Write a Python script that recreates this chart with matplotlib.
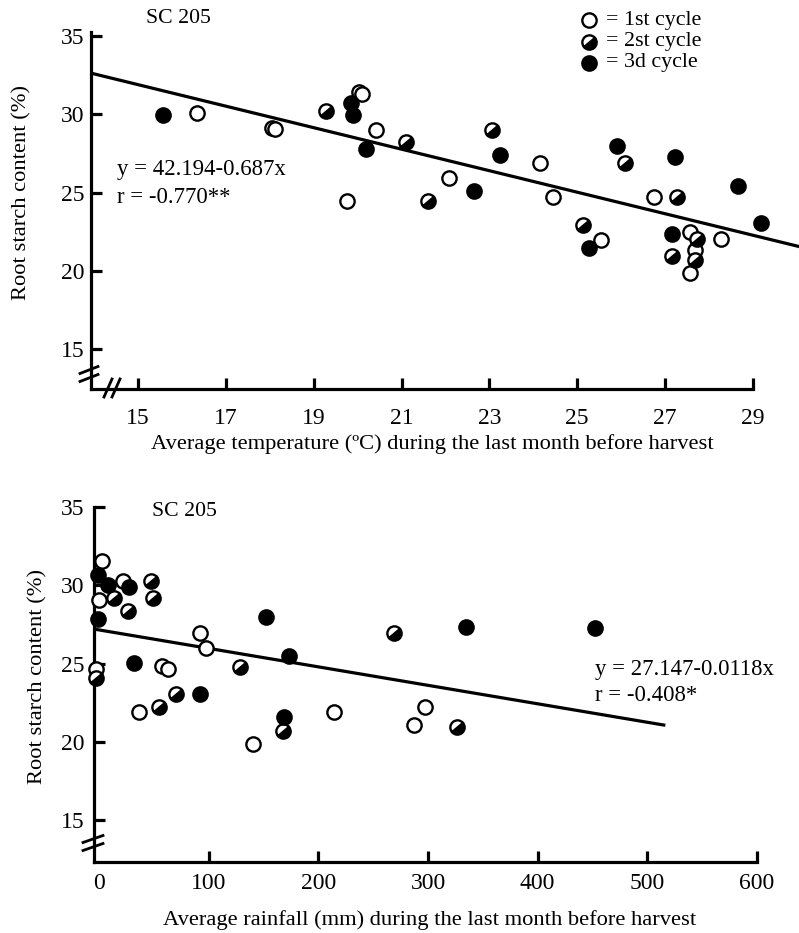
import numpy as np
import matplotlib
matplotlib.use("Agg")
import matplotlib.pyplot as plt
from matplotlib.markers import MarkerStyle
from matplotlib.transforms import Affine2D
from matplotlib.lines import Line2D

plt.rcParams['font.family'] = ['Liberation Serif', 'DejaVu Serif']

# --- temperature panel ---
t1_x = [16.34, 18.05, 18.12, 20.03, 20.09, 20.41, 19.77, 22.07, 24.16, 24.45, 25.55, 26.75, 27.57, 28.27, 27.68, 27.57]
t1_y = [30.06, 29.15, 29.05, 31.40, 31.30, 28.98, 24.47, 25.94, 26.90, 24.70, 21.94, 24.70, 22.50, 22.06, 21.30, 19.84]
t2_x = [19.27, 21.11, 23.05, 21.60, 26.09, 27.27, 25.14, 27.73, 27.16, 27.68]
t2_y = [30.20, 28.22, 28.98, 24.48, 26.90, 24.70, 22.95, 22.06, 20.92, 20.70]
t3_x = [15.57, 19.86, 19.89, 20.20, 23.25, 22.66, 25.90, 27.23, 28.66, 29.18, 25.27, 27.16]
t3_y = [29.94, 30.70, 29.94, 27.76, 27.40, 25.10, 27.97, 27.27, 25.43, 23.08, 21.43, 22.38]
t_fit = (42.194, -0.687)
t_ticks = [15, 17, 19, 21, 23, 25, 27, 29]

# --- rainfall panel ---
r1_x = [2.7, 0, -3, 22, 57.6, 62.9, 36.6, 92, 97.5, 140.7, 214.5, 297, 287]
r1_y = [31.55, 29.06, 24.65, 30.27, 24.84, 24.65, 21.90, 26.95, 25.99, 19.85, 21.90, 22.20, 21.07]
r2_x = [-3, 13.7, 26.5, 47.4, 49.4, 70.2, 54.9, 128.5, 168, 269, 326]
r2_y = [24.07, 29.20, 28.35, 30.27, 29.20, 23.05, 22.20, 24.78, 20.70, 26.95, 20.94]
r3_x = [-1, 8.5, 27.4, -1, 31.9, 92, 152, 173, 168.6, 335, 452]
r3_y = [30.65, 30.00, 29.90, 27.84, 25.03, 23.05, 27.97, 25.48, 21.58, 27.33, 27.27]
r_fit = (27.147, -0.0118)
r_ticks = [0, 100, 200, 300, 400, 500, 600]

y_ticks = [15, 20, 25, 30, 35]

W, H = 799, 933
fig = plt.figure(figsize=(W / 100, H / 100), dpi=100)

ms = 10.3
mew = 1.7
half = MarkerStyle('o', fillstyle='bottom', transform=Affine2D().rotate_deg(40))
style1 = dict(marker='o', ms=ms, mfc='white', mec='black', mew=mew, ls='none')
style2 = dict(marker=half, ms=ms, mfc='black', mfcalt='white', mec='black', mew=mew, ls='none')
style3 = dict(marker='o', ms=ms, mfc='black', mec='black', mew=mew, ls='none')

LAB = 16.2


def px(x, y):
    return x / W, 1 - y / H


def setup(ax):
    for s in ['top', 'right']:
        ax.spines[s].set_visible(False)
    for s in ['left', 'bottom']:
        ax.spines[s].set_linewidth(2.3)
    ax.tick_params(direction='in', length=8, width=2.3, labelsize=17)
    ax.set_yticks(y_ticks)


def brk(x0, y0, dx, dy, ox, oy):
    # two short parallel strokes marking an axis break (pixel coords)
    for k in (-1, 1):
        cx, cy = x0 + k * ox, y0 + k * oy
        fig.add_artist(Line2D([(cx - dx) / W, (cx + dx) / W],
                              [1 - (cy + dy) / H, 1 - (cy - dy) / H],
                              color='black', lw=2.0, transform=fig.transFigure))


# ---------------- top panel ----------------
ax1 = fig.add_axes([91 / W, 1 - 389 / H, (W - 91) / W, 357.3 / H])
setup(ax1)
ax1.set_xlim(13.93, 30.05)
ax1.set_ylim(12.45, 35.27)
ax1.spines['bottom'].set_bounds(13.93, 29)
ax1.set_xticks(t_ticks)
ax1.tick_params(axis='x', pad=14)
ax1.tick_params(axis='y', pad=5)
xx = np.array(ax1.get_xlim())
ax1.plot(xx, t_fit[0] + t_fit[1] * xx, color='black', lw=2.3, zorder=1)
ax1.plot(t1_x, t1_y, **style1, zorder=3)
ax1.plot(t2_x, t2_y, **style2, zorder=3)
ax1.plot(t3_x, t3_y, **style3, zorder=3)
ax1.text(0.037, 0.613, 'y = 42.194-0.687x', transform=ax1.transAxes, fontsize=16.4, va='center')
ax1.text(0.037, 0.537, 'r = -0.770**', transform=ax1.transAxes, fontsize=16.4, va='center')
ax1.text(0.078, 1.038, 'SC 205', transform=ax1.transAxes, fontsize=15.7, va='center', clip_on=False)

fig.text(*px(22, 193), 'Root starch content (%)', rotation=90, fontsize=LAB, ha='center', va='center')
fig.text(*px(432, 444), 'Average temperature (ºC) during the last month before harvest',
         fontsize=LAB, ha='center', va='center')

# legend
leg_items = [('= 1st cycle', style1), ('= 2st cycle', style2), ('= 3d cycle', style3)]
for i, (lab, st) in enumerate(leg_items):
    yy = 20 + i * 21.5
    fig.add_artist(Line2D([589 / W], [1 - yy / H], transform=fig.transFigure, **st))
    fig.text(*px(606, yy), lab, fontsize=15.8, va='center')

brk(89, 374, 9, 3.5, 0, 4)
brk(112, 388, 4, 9, 4, 0)

# ---------------- bottom panel ----------------
ax2 = fig.add_axes([94 / W, 1 - 862 / H, 663 / W, 355 / H])
setup(ax2)
ax2.set_xlim(-4.56, 600)
ax2.set_ylim(12.32, 35)
ax2.set_xticks(r_ticks)
ax2.xaxis.get_major_ticks()[0].tick1line.set_visible(False)
ax2.tick_params(axis='x', pad=8)
ax2.tick_params(axis='y', pad=7)
xr = np.array([-4.0, 515.0])
ax2.plot(xr, r_fit[0] + r_fit[1] * xr, color='black', lw=2.3, zorder=1)
ax2.plot(r1_x, r1_y, **style1, zorder=3, clip_on=False)
ax2.plot(r2_x, r2_y, **style2, zorder=3, clip_on=False)
ax2.plot(r3_x, r3_y, **style3, zorder=3, clip_on=False)
ax2.text(0.756, 0.541, 'y = 27.147-0.0118x', transform=ax2.transAxes, fontsize=16.4, va='center')
ax2.text(0.756, 0.470, 'r = -0.408*', transform=ax2.transAxes, fontsize=16.4, va='center')
ax2.text(0.0875, 0.986, 'SC 205', transform=ax2.transAxes, fontsize=15.7, va='center')

fig.text(*px(38, 677), 'Root starch content (%)', rotation=90, fontsize=LAB, ha='center', va='center')
fig.text(*px(430, 920), 'Average rainfall (mm) during the last month before harvest',
         fontsize=LAB, ha='center', va='center')

brk(93, 843, 10, 3.5, 0, 4)

fig.savefig('out.png', dpi=100)
